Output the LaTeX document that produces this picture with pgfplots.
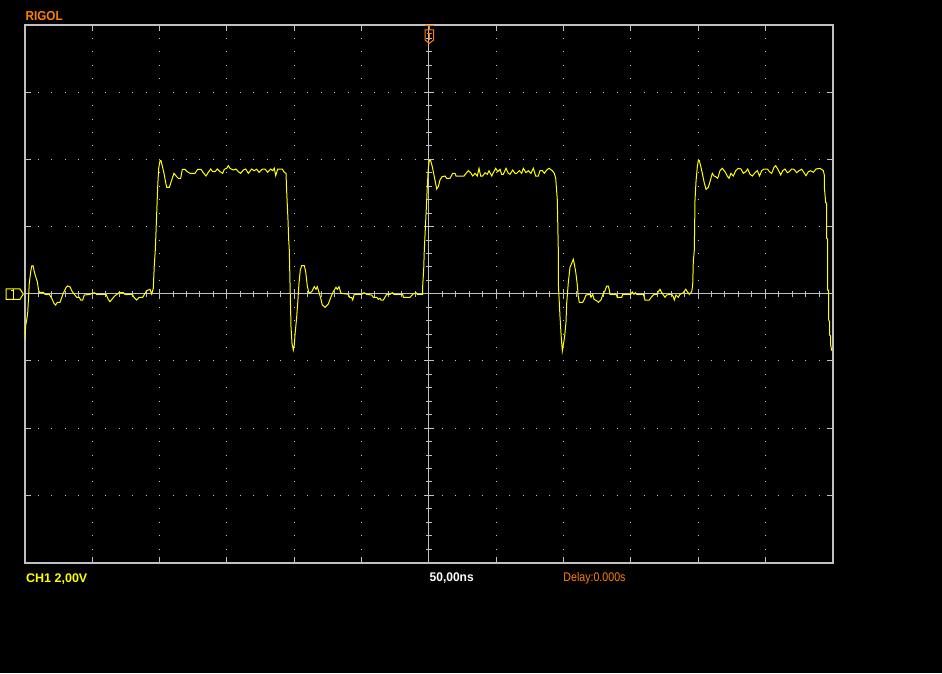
\documentclass[border=0pt]{standalone}
\usepackage{fontspec}
\setmainfont{Liberation Sans}
\usepackage{pgfplots}
\usepackage{pgfplotstable}
\pgfplotsset{compat=1.18}
\definecolor{scopegray}{RGB}{192,192,192}
\definecolor{scopeyellow}{RGB}{255,255,0}
\definecolor{rigolorange}{RGB}{255,128,0}

% trace in screen pixels (x right, y down)
\pgfplotstableread{
px py
25 340
25.7 325
26.7 320
27.7 313
28.3 301.7
29.3 283
30.7 271.7
31.7 266
33 265.7
34.3 271.7
35.7 276.7
37.3 281.7
38.3 288.3
39.3 292.3
43.3 292.3
45 294.3
49.3 294.3
51.7 298.3
54 303.3
55.7 305
57.3 302.3
60 302.3
63.3 293.3
66 287.7
67.7 286
70 286.7
72.3 291.7
75 295
76.7 297.3
79.3 297.3
80.7 300
82.7 300
84.3 295
90 294.3
94.3 292.7
96.7 294.3
106 294.3
108.3 299.3
110 301.7
112.7 298.3
115 295.7
119 292.7
123.3 292.7
125 294.3
132.3 294.3
134 297.3
136.7 300
139.3 297.3
142.7 297.3
146.7 290.7
150 289.3
151.7 294
153.3 288.3
154.3 265
155.3 250
155.7 240
156.7 213.3
157.7 186.7
158.7 168.3
160 160.7
161 160.7
162.3 166
164 173.3
165.7 182.7
166.7 187.3
169.3 187.3
171.7 180
174 173.3
176.7 176.7
178.3 178.3
180.7 178.3
182.3 169.3
185 169.3
187.3 171.7
190 173.3
195 173.3
197.7 169.3
201 169.3
203.3 172.7
206 176
208.3 172.3
210.7 169
212.7 171.7
215 171.7
217.3 169
220 171.7
222.7 173.3
224.3 169.3
226.7 168.3
228.3 165.7
230 168.3
233.3 170
236 169
238.3 171.7
240.7 173.3
243.3 170
245.7 169
248.3 173.3
251.7 169
254 170.7
256.7 169.3
259 172.3
262.3 169
265 169
267.7 172.3
270.7 169
272.7 170.7
274.3 168.3
275.7 175.7
277.7 169
282.3 169
284.3 172.3
286 173.3
286.7 191.7
288 220
288.7 240
289.3 250
290 283.3
291 326.7
292 343.3
293.3 350
294.3 345
295 335
296.7 316.7
297.7 303.3
299 283.3
300.3 270
301.7 265.7
304.3 265.7
305.7 271.7
307.3 286
309 293.3
311.7 291.7
314.3 286.7
316 289.3
317.3 286.7
319.3 293.3
321 299.3
322.3 305
325 307.3
328.3 304
331 296.7
333.3 291.7
336 287.3
337.3 289.3
339 286.7
341 293.3
348.3 294.3
350 297.7
351.7 297.7
352.7 300
354.3 294.3
361.7 294.3
364 292.7
366.7 294.3
371.7 295
373.3 297.3
376.7 297.3
378.3 299.3
380 298.3
381 300
383.3 300
386.7 294.3
390 294.3
392.3 292.7
394 294.3
402.7 294.3
403.3 297.3
410 297.3
412.7 294.3
416 292.7
417.3 294.3
422.7 294.3
422.7 286
423.7 269.3
424.3 250
426.7 200
427.3 186.7
428.3 168.3
429.3 160.7
430.7 160.7
432.3 166.7
434.3 176.7
436.7 189
438.3 186.7
440 180
442 176.7
445 176
446.7 178.3
450 178.3
452.7 173.3
455 173.3
456 176
464 176
466 173.3
468.3 170.7
470.7 172.7
472.7 176
475 173.3
477.3 176
479 168.3
480.7 176
482.7 176
485 172.7
487.3 174.3
489 170.7
491.7 176
493.3 172.7
495.7 168.3
497.7 171.7
500 169.3
501.7 174.3
503.3 174.3
506 168.3
508.3 173.3
510 174.3
512.7 170
515 173.3
516.7 173.3
519.3 170.7
521.7 173.3
523.3 168.3
526 172.7
528.3 170.7
531 173.3
533.3 168.3
535.7 176
538.3 176
540 170.7
542.3 170.7
544.3 173.3
546.7 170
549 168.3
552.3 170.7
554.3 173.3
555.7 178.3
556.7 191.7
557.3 200
558.3 250
558.3 282.7
560 316.7
561 333.3
562 346.7
562.3 351
563.3 345
564.7 336
566 321.7
566.7 303.3
568.3 282.7
570 267.3
571.7 263.3
573.3 259.3
574.3 264
575.7 271.7
577.3 285
578.3 296.7
579.3 302.3
582.7 302.3
584.3 299.3
586 295
590 294.3
591 297.3
592.7 294.3
594 299.3
596.7 300.7
598.3 302.3
601 300
602.7 295
605 290.7
606.7 286
608.3 286
609.3 290
610 294.3
616 294.3
617.3 297.3
621.7 297.3
622.7 294.3
630.7 294.3
632.3 292
634 294.3
635.3 292.7
636.7 294.3
643.3 294.3
645 300
649.3 300
651.7 296.7
654 294.3
656.7 294.3
658.3 291.7
660 289.3
661.7 292.7
665 297.3
666.7 295
670 294.3
671.7 294.3
673.3 296.7
674.3 300
676 295
678.3 297.3
680 294.3
683.3 292.7
685.7 289.3
687.3 291.7
689.3 294.3
691.7 291.7
692.7 285
693.3 261.7
694.3 250
695 200
696 181.7
697.3 166.7
698.3 160.7
699.3 160.7
700.7 166
702.3 173.3
704 181.7
706 189.3
708.3 187.3
710 181.7
712.3 173.3
714 176
715.7 176.7
717.7 178.3
720 170.7
722.3 168.3
725 171.7
727.3 176
729 178.3
731 173.3
733.3 176
735.7 170.7
738.3 168.3
741 169
743.3 173.3
745.7 171.7
747.7 169
750 174.3
752.3 176
755 172.7
757.3 170.7
759.5 176
761.7 170.7
764 169
767.3 169
770 172.3
771.7 173.3
774 167.3
775.7 165.7
778.3 170
780.7 175
782.7 170.7
785 169
787.3 172.7
789.3 171.7
791.7 169
794 169.3
796.7 172.7
799 170.7
801.7 169.3
804 172.7
806 175.7
808.3 171.7
810.7 170.7
813.3 172.3
816 169
820 168.3
823.3 170.7
824.3 175
824.3 186.7
825.7 202.7
826.7 203.3
826.7 238.3
827.7 239.3
827.7 290
828.7 290
828.7 320
829.7 321.7
829.7 335
830.7 336
830.7 345
831.7 350.7
}\trace

\begin{document}
\begin{tikzpicture}[x=1pt,y=1pt]
\path[fill=black, use as bounding box] (0,0) rectangle (942,673);
\begin{axis}[
    at={(428.85pt,379.25pt)}, anchor=center,
    scale only axis,
    width=807.7pt, height=537.5pt,
    xmin=25, xmax=832.7,
    ymin=25, ymax=562.5,
    y dir=reverse,
    axis line style={scopegray, line width=2pt},
    xtick={25,92.31,159.62,226.93,294.23,361.54,428.85,496.16,563.47,630.78,698.08,765.39,832.7},
    ytick={25,92.19,159.38,226.56,293.75,360.94,428.13,495.31,562.5},
    xticklabels={}, yticklabels={},
    minor x tick num=4, minor y tick num=4,
    tick align=inside,
    major tick length=6pt, minor tick length=3.5pt,
    tick style={scopegray, line width=1pt},
    grid=major,
    major x grid style={scopegray, line width=1pt, dash pattern=on 1pt off 12.4375pt, dash phase=0.5pt},
    major y grid style={scopegray, line width=1pt, dash pattern=on 1pt off 12.46pt, dash phase=0.5pt},
]
% centre cross with its ticks
\draw[scopegray, line width=1pt] (axis cs:25,293.75) -- (axis cs:832.7,293.75);
\draw[scopegray, line width=6pt, dash pattern=on 1pt off 12.46pt, dash phase=0.5pt] (axis cs:25,293.75) -- (axis cs:832.7,293.75);
\draw[scopegray, line width=10pt, dash pattern=on 1pt off 66.31pt, dash phase=0.5pt] (axis cs:25,293.75) -- (axis cs:832.7,293.75);
\draw[scopegray, line width=1pt] (axis cs:428.85,25) -- (axis cs:428.85,562.5);
\draw[scopegray, line width=6pt, dash pattern=on 1pt off 12.4375pt, dash phase=0.5pt] (axis cs:428.85,25) -- (axis cs:428.85,562.5);
\draw[scopegray, line width=10pt, dash pattern=on 1pt off 66.19pt, dash phase=0.5pt] (axis cs:428.85,25) -- (axis cs:428.85,562.5);

\addplot[scopeyellow, line width=1pt, no markers] table[x=px, y=py] {\trace};
\end{axis}

% trigger marker
\draw[rigolorange, line width=1pt] (425,647) -- (434,647) (429.3,647) -- (429.3,643);
\draw[rigolorange, line width=1pt] (425,643) -- (433.7,643) -- (433.7,633) -- (429.3,629.7) -- (425,633) -- cycle;
\draw[rigolorange, line width=1pt] (427.3,639.7) -- (432,639.7) (429.3,639.7) -- (429.3,633);

% channel 1 marker
\draw[scopeyellow, line width=1pt] (6,384) -- (20,384) -- (23.3,379) -- (20,373.7) -- (6,373.7) -- cycle;
\draw[scopeyellow, line width=1pt] (13.3,384) -- (13.3,373.7) (11,382) -- (13.3,382);

% labels
\node[anchor=base west, inner sep=0, text=rigolorange, font=\bfseries\fontsize{13}{13}\selectfont, xscale=0.9] at (25.5,652) {RIGOL};
\node[anchor=base west, inner sep=0, text=scopeyellow, font=\bfseries\fontsize{12.5}{12.5}\selectfont] at (26,91) {CH1 2,00V};
\node[anchor=base west, inner sep=0, text=white, font=\bfseries\fontsize{12.5}{12.5}\selectfont, xscale=0.96] at (429.5,91.3) {50,00ns};
\node[anchor=base west, inner sep=0, text=rigolorange, font=\fontsize{12.5}{12.5}\selectfont, xscale=0.85] at (563.3,91.3) {Delay:0.000s};
\end{tikzpicture}
\end{document}
